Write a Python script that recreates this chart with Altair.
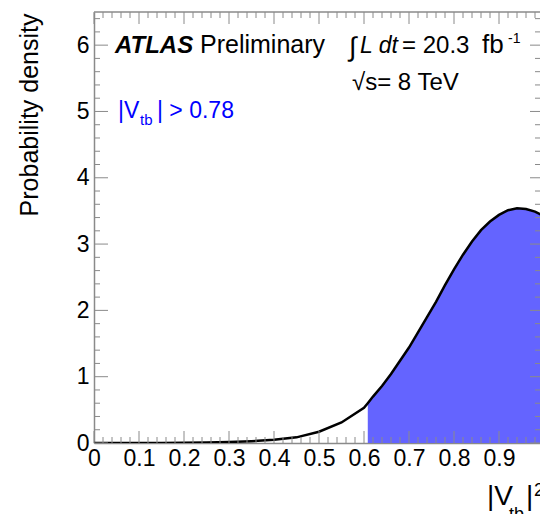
import altair as alt
import pandas as pd

# ---- data ----
vtb2 = [0.00, 0.05, 0.10, 0.15, 0.20, 0.25, 0.30, 0.35, 0.40, 0.45, 0.50, 0.55,
        0.60, 0.6084, 0.62, 0.64, 0.66, 0.68, 0.70, 0.72, 0.74, 0.76, 0.78, 0.80,
        0.82, 0.84, 0.86, 0.88, 0.90, 0.92, 0.94, 0.96, 0.98, 1.00]
density = [0.0, 0.0, 0.0, 0.001, 0.003, 0.007, 0.015, 0.028, 0.048, 0.085, 0.17, 0.31,
           0.53, 0.60, 0.70, 0.86, 1.04, 1.24, 1.44, 1.67, 1.90, 2.13, 2.38, 2.62,
           2.84, 3.04, 3.21, 3.34, 3.44, 3.51, 3.54, 3.53, 3.49, 3.42]
cut = 0.6084  # |Vtb| > 0.78

x_major = [0, 0.1, 0.2, 0.3, 0.4, 0.5, 0.6, 0.7, 0.8, 0.9]
x_minor = [round(i * 0.02, 2) for i in range(50) if i % 5]
y_major = [0, 1, 2, 3, 4, 5, 6]
y_minor = [round(i * 0.2, 1) for i in range(33) if i % 5]

y_title = "Probability density"
atlas = "ATLAS"
prelim = "Preliminary"
integral = "∫"
lumi_it = "L dt"
lumi_val = "= 20.3"
lumi_unit = "fb"
lumi_exp = "-1"
energy = "√s= 8 TeV"
cut_a, cut_sub, cut_b = "|V", "tb", "| > 0.78"
xt_a, xt_sub, xt_b, xt_sup = "|V", "tb", "|", "2"

# ---- layout ----
W, H = 446, 431
X_MAX = W / 450.0
FONT = "Liberation Sans"
FRAME = "#8a8a8a"

df = pd.DataFrame({"x": vtb2, "d": density})
df_area = df[df["x"] >= cut]

xs = alt.Scale(domain=[0, X_MAX], nice=False, zero=False)
ys = alt.Scale(domain=[0, 6.5], nice=False, zero=False)

ax_x = alt.Axis(values=x_major, format=".1~f", title=None, ticks=False, grid=False,
                labelFontSize=23, labelFont=FONT, labelColor="black", labelPadding=4,
                labelFlush=False, labelOverlap=False, domainColor=FRAME, domainWidth=1.5)
ax_y = alt.Axis(values=y_major, title=y_title, ticks=False, grid=False,
                labelFontSize=23, labelFont=FONT, labelColor="black", labelPadding=5,
                domainColor=FRAME, domainWidth=1.5,
                titleFont=FONT, titleFontSize=25, titleFontWeight="normal", titleColor="black",
                titleAngle=270, titleAlign="right", titleBaseline="alphabetic",
                titleX=-57, titleY=1)

X = lambda f: alt.X(f, scale=xs, axis=ax_x)
Y = lambda f: alt.Y(f, scale=ys, axis=ax_y)

area = alt.Chart(df_area).mark_area(color="#6464ff", clip=True).encode(x=X("x:Q"), y=Y("d:Q"))
line = alt.Chart(df).mark_line(color="black", strokeWidth=2.5, clip=True).encode(x=X("x:Q"), y=Y("d:Q"))


def ticks_x(vals, length):
    d = pd.DataFrame({"v": vals})
    bottom = alt.Chart(d).mark_rule(color=FRAME, strokeWidth=1).encode(
        x=X("v:Q"), y=alt.value(H), y2=alt.value(H - length))
    top = alt.Chart(d).mark_rule(color=FRAME, strokeWidth=1).encode(
        x=X("v:Q"), y=alt.value(0), y2=alt.value(length))
    return [bottom, top]


def ticks_y(vals, left_len, right_len):
    d = pd.DataFrame({"v": vals})
    left = alt.Chart(d).mark_rule(color=FRAME, strokeWidth=1).encode(
        y=Y("v:Q"), x=alt.value(0), x2=alt.value(left_len))
    right = alt.Chart(d).mark_rule(color=FRAME, strokeWidth=1).encode(
        y=Y("v:Q"), x=alt.value(W), x2=alt.value(W - right_len))
    return [left, right]


top_frame = alt.Chart(pd.DataFrame({"a": [0]})).mark_rule(color=FRAME, strokeWidth=1.5).encode(
    x=alt.value(0), x2=alt.value(W), y=alt.value(0))


def txt(s, x, y, size, color="black", style="normal", weight="normal"):
    return alt.Chart(pd.DataFrame({"t": [s]})).mark_text(
        align="left", baseline="alphabetic", font=FONT, fontSize=size,
        fontStyle=style, fontWeight=weight, color=color).encode(
        x=alt.value(x), y=alt.value(y), text="t:N")


texts = [
    txt(atlas, 21, 41, 24, style="italic", weight="bold"),
    txt(prelim, 106, 41, 25),
    txt(integral, 255, 44, 27),
    txt(lumi_it, 266, 41, 23, style="italic"),
    txt(lumi_val, 308, 41, 24),
    txt(lumi_unit, 388, 41, 26),
    txt(lumi_exp, 414, 31, 14),
    txt(energy, 258, 78, 24),
    txt(cut_a, 24, 106, 23, color="blue"),
    txt(cut_sub, 46, 113, 15, color="blue"),
    txt(cut_b, 63, 106, 23, color="blue"),
    txt(xt_a, 393, 493, 28),
    txt(xt_sub, 415, 508, 18),
    txt(xt_b, 432, 493, 28),
    txt(xt_sup, 440, 484, 18),
]

layers = [area, line] + ticks_x(x_major, 12) + ticks_x(x_minor, 6) \
    + ticks_y(y_major, 14, 10) + ticks_y(y_minor, 6, 5) + [top_frame] + texts

chart = alt.layer(*layers).properties(
    width=W, height=H,
    padding={"left": 94, "top": 12, "right": 0, "bottom": 71},
    autosize=alt.AutoSizeParams(type="none"),
    background="white",
).configure_view(strokeWidth=0)

chart.save("out.html", embed_options={"renderer": "svg", "actions": False})
